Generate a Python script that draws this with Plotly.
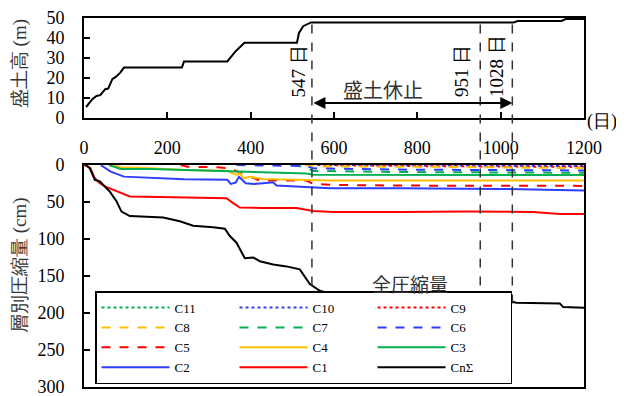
import plotly.graph_objects as go

# ---------------- data ----------------
# embankment height (top panel)
fill_day = [5, 20, 30, 39, 44, 51, 58, 68, 77, 87, 96, 235, 240, 344, 364, 385, 511, 516, 526, 535, 545, 1031, 1041, 1146, 1156, 1200]
fill_h = [5.5, 9.4, 11, 11.4, 12.7, 14.4, 14.7, 19.4, 20.7, 22.7, 25.2, 25.2, 28.3, 28.3, 33.4, 37.6, 37.6, 42.5, 45.9, 47, 47.8, 47.8, 48.5, 48.5, 49.5, 49.5]

# layer compression (bottom panel)
c11_day = [700, 950, 1200]
c11_cm = [0, 0.6, 1.0]
c10_day = [600, 900, 1200]
c10_cm = [0, 1.0, 1.5]
c9_day = [560, 800, 1200]
c9_cm = [0, 1.5, 2.5]
c8_day = [530, 560, 854, 1200]
c8_cm = [0, 2.0, 2.5, 4.3]
c7_day = [500, 534, 550, 758, 1200]
c7_cm = [0, 3, 8, 9.5, 10.5]
c6_day = [366, 534, 550, 758, 1200]
c6_cm = [0, 1.3, 4.5, 6.2, 7.4]
c5_day = [232, 248, 320, 352, 368, 380, 398, 422, 534, 550, 598, 758, 1200]
c5_cm = [0, 2.2, 3.1, 4.5, 9, 11, 15.7, 21, 21, 25.5, 27, 27.8, 28.2]
c4_day = [72, 88, 160, 240, 343, 366, 374, 382, 398, 430, 510, 590, 758, 1200]
c4_cm = [0, 3.1, 4.5, 6.7, 7.6, 13.5, 11, 18, 16, 19, 20, 21, 21, 21]
c3_day = [60, 88, 160, 240, 352, 400, 470, 534, 550, 758, 1200]
c3_cm = [0, 5.4, 5.4, 6.7, 9, 10.3, 11, 11.5, 13, 13.4, 13.5]
c2_day = [40, 64, 96, 160, 240, 344, 352, 364, 372, 388, 408, 430, 454, 462, 510, 590, 758, 998, 1200]
c2_cm = [0, 9, 15.7, 17, 19.3, 20, 25.5, 23.8, 16, 24.6, 25.5, 24.6, 23.4, 27.8, 29, 31.4, 31.4, 32.3, 34.5]
c1_day = [0, 15, 26, 38, 50, 70, 110, 150, 230, 342, 358, 374, 430, 510, 550, 598, 758, 918, 1078, 1142, 1200]
c1_cm = [0, 4, 18, 24.6, 29, 33.6, 42.6, 43, 43.5, 45, 51.5, 57.4, 58, 58, 62, 63.6, 63.6, 62.8, 63.6, 66.3, 66.3]
cn_day = [5, 14, 26, 38, 50, 62, 78, 90, 110, 150, 190, 230, 262, 310, 338, 350, 366, 386, 406, 422, 454, 486, 518, 542, 566, 598, 678, 838, 942, 1030, 1038, 1142, 1150, 1200]
cn_cm = [0, 4.5, 20, 22, 29, 36, 49, 63, 69, 70, 71, 76, 82, 84, 86, 96, 105, 126, 125, 130, 134.5, 137, 141, 161, 170, 175, 179, 183, 184, 185, 186, 187, 192, 193]

event_days = [547, 951, 1028]
event_labels = ["547 日", "951 日", "1028 日"]

# ---------------- layout constants ----------------
TOP_DOM = [0.729, 1.0]
BOT_DOM = [0.0, 0.6016]
SERIF = "Liberation Serif"
JP = "Noto Sans CJK JP"
GREEN = "#00B050"
ORANGE = "#FFC000"
BLUE = "#2F3DFF"
RED = "#FF0000"

fig = go.Figure()

# top panel
fig.add_trace(go.Scatter(x=fill_day, y=fill_h, mode="lines", line=dict(color="black", width=2),
                         showlegend=False, xaxis="x", yaxis="y"))

series = [
    ("C11", c11_day, c11_cm, GREEN, "dot"),
    ("C10", c10_day, c10_cm, BLUE, "dot"),
    ("C9", c9_day, c9_cm, RED, "dot"),
    ("C8", c8_day, c8_cm, ORANGE, "dash"),
    ("C7", c7_day, c7_cm, GREEN, "dash"),
    ("C6", c6_day, c6_cm, BLUE, "dash"),
    ("C5", c5_day, c5_cm, RED, "dash"),
    ("C4", c4_day, c4_cm, ORANGE, "solid"),
    ("C3", c3_day, c3_cm, GREEN, "solid"),
    ("C2", c2_day, c2_cm, BLUE, "solid"),
    ("C1", c1_day, c1_cm, RED, "solid"),
    ("CnΣ", cn_day, cn_cm, "black", "solid"),
]
for name, xs, ys, col, dash in series:
    fig.add_trace(go.Scatter(x=xs, y=ys, mode="lines", name=name,
                             line=dict(color=col, width=2, dash=dash),
                             xaxis="x2", yaxis="y2"))

# dashed event lines spanning both panels
y_top = TOP_DOM[0] + (TOP_DOM[1] - TOP_DOM[0]) * 48 / 50
y_bot = BOT_DOM[0] + (BOT_DOM[1] - BOT_DOM[0]) * (1 - 187 / 300)
for d in event_days:
    fig.add_shape(type="line", xref="x", yref="paper", x0=d, x1=d, y0=y_bot, y1=y_top,
                  line=dict(color="#333333", width=1.5, dash="dash"))

annotations = []
label_pos = [(514, 23.3), (906, 23.3), (990, 25.8)]
for (lx, ly), txt in zip(label_pos, event_labels):
    annotations.append(dict(x=lx, y=ly, xref="x", yref="y", text=txt, textangle=-90,
                            xanchor="center", yanchor="middle",
                            showarrow=False, font=dict(family=SERIF, size=19, color="black")))
annotations.append(dict(x=718, y=14.2, xref="x", yref="y", text="盛土休止", showarrow=False,
                        xanchor="center", yanchor="middle",
                        font=dict(family=JP, size=20, color="#333333")))
annotations.append(dict(x=event_days[2], y=7.5, ax=event_days[0], ay=7.5, xref="x", yref="y",
                        axref="x", ayref="y", text="", showarrow=True, arrowhead=2,
                        startarrowhead=2, arrowside="end+start", arrowwidth=2,
                        arrowsize=1.2, startarrowsize=1.2, arrowcolor="black"))
annotations.append(dict(x=782, y=160, xref="x2", yref="y2", text="全圧縮量", showarrow=False,
                        xanchor="center", yanchor="middle",
                        font=dict(family=JP, size=19, color="#333333")))
annotations.append(dict(x=1.036, y=0.719, xref="paper", yref="paper", text="(日)",
                        xanchor="center", yanchor="middle",
                        showarrow=False, font=dict(family=SERIF, size=18, color="black")))
annotations.append(dict(x=-0.128, y=0.875, xref="paper", yref="paper", text="盛土高 (m)",
                        textangle=-90, showarrow=False, xanchor="center", yanchor="middle",
                        font=dict(family=SERIF, size=19, color="#333333")))
annotations.append(dict(x=-0.128, y=0.3306, xref="paper", yref="paper", text="層別圧縮量 (cm)",
                        textangle=-90, showarrow=False, xanchor="center", yanchor="middle",
                        font=dict(family=SERIF, size=19, color="#333333")))

axis_common = dict(showline=True, linecolor="black", linewidth=2, mirror=True,
                   showgrid=False, zeroline=False, ticks="inside", ticklen=6,
                   tickcolor="black", tickwidth=1.5, automargin=False,
                   ticklabeloverflow="allow",
                   tickfont=dict(family=SERIF, size=18, color="black"))

fig.update_layout(
    template="none",
    width=616, height=388,
    margin=dict(l=76, r=40, t=10, b=9),
    paper_bgcolor="white", plot_bgcolor="white",
    xaxis=dict(domain=[0, 1], anchor="y", range=[0, 1200], dtick=200, tick0=0,
               ticklabelstandoff=12, **axis_common),
    yaxis=dict(domain=TOP_DOM, anchor="x", range=[0, 50], dtick=10,
               ticklabelstandoff=14, **axis_common),
    xaxis2=dict(domain=[0, 1], anchor="y2", range=[0, 1200], matches="x",
                showticklabels=False, **{**axis_common, "ticks": ""}),
    yaxis2=dict(domain=BOT_DOM, anchor="x2", range=[300, 0], dtick=50,
                ticklabelstandoff=14, **axis_common),
    legend=dict(orientation="h", x=0.022, xanchor="left", y=0.008, yanchor="bottom",
                bgcolor="white", bordercolor="black", borderwidth=1.5,
                font=dict(family=SERIF, size=13, color="black"),
                itemwidth=68, entrywidth=55, entrywidthmode="pixels",
                traceorder="normal"),
    annotations=annotations,
    showlegend=True,
)

fig.write_html("out.html")
